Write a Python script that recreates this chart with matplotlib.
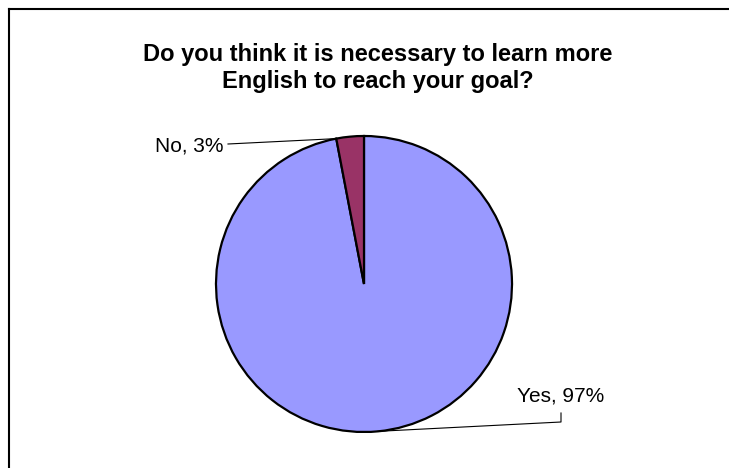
import numpy as np
import matplotlib.pyplot as plt
from matplotlib.lines import Line2D

# chart data
title_lines = ['Do you think it is necessary to learn more',
               'English to reach your goal?']
labels = ['Yes', 'No']
values = [97, 3]
colors = ['#9999FF', '#993366']

W, H = 729, 468
plt.rcParams['font.family'] = ['Liberation Sans', 'DejaVu Sans']

fig = plt.figure(figsize=(W / 100, H / 100), dpi=100)
ax = fig.add_axes([0, 0, 1, 1])

# pie geometry in pixels (y measured from the top of the image)
cx, cy, r = 364, 284, 148
wedges, _ = ax.pie(values, colors=colors, startangle=90, counterclock=False,
                   center=(cx, H - cy), radius=r, frame=True,
                   wedgeprops=dict(edgecolor='black', linewidth=1.6))
ax.set_xlim(0, W)
ax.set_ylim(0, H)
ax.set_aspect('equal')
ax.axis('off')

# chart frame (top and left edges visible)
fig.add_artist(Line2D([8.5 / W, 8.5 / W], [0, 1 - 9 / H], color='black', lw=1.5))
fig.add_artist(Line2D([8.5 / W, 1], [1 - 9 / H, 1 - 9 / H], color='black', lw=1.5))

# title
fig.text(378 / W, 1 - 61 / H, title_lines[0], ha='center', va='baseline',
         fontsize=17, fontweight='bold')
fig.text(378 / W, 1 - 88 / H, title_lines[1], ha='center', va='baseline',
         fontsize=17, fontweight='bold')

def edge_point(theta_deg):
    t = np.deg2rad(theta_deg)
    return cx + r * np.cos(t), H - cy + r * np.sin(t)

# No label: leader from left edge of the small wedge
w_no = wedges[1]
px, py = edge_point(w_no.theta2)
ax.plot([px, 228], [py, H - 144], color='black', lw=0.8)
ax.text(224, H - 152, f'{labels[1]}, {values[1]}%', ha='right', va='baseline',
        fontsize=15)

# Yes label: leader from middle of the big wedge
w_yes = wedges[0]
px, py = edge_point((w_yes.theta1 + w_yes.theta2) / 2)
ax.plot([px, 561, 561], [py, H - 422, H - 413], color='black', lw=0.8)
ax.text(517, H - 402, f'{labels[0]}, {values[0]}%', ha='left', va='baseline',
        fontsize=15)

fig.savefig('out.png', dpi=100)
